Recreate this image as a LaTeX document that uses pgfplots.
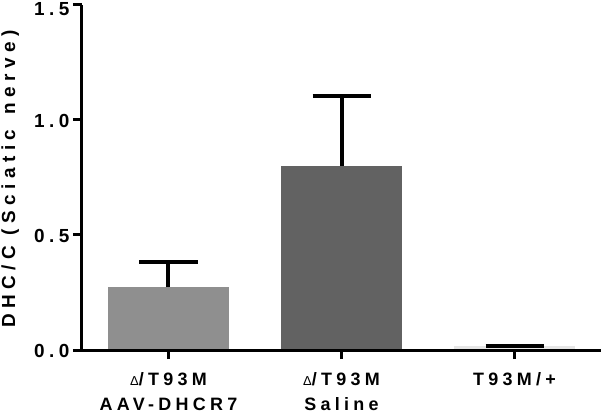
\documentclass[border=0pt]{standalone}
\usepackage{fontspec}
\setmainfont{Liberation Sans}
\newfontfamily\ylabfont[LetterSpace=29]{Liberation Sans}
\newfontfamily\ytickfont[LetterSpace=24]{Liberation Sans}
\newfontfamily\xfont[LetterSpace=24]{Liberation Sans}
\usepackage{pgfplots}
\pgfplotsset{compat=1.18}
\definecolor{barA}{HTML}{8F8F8F}
\definecolor{barB}{HTML}{626262}
\definecolor{barC}{HTML}{E6E6E6}
\newcommand{\dlt}{{\mdseries\fontsize{13}{13}\selectfont Δ}}
\begin{document}
\begin{tikzpicture}
\begin{axis}[
  scale only axis,
  width=519bp, height=345bp,
  xmin=-0.5, xmax=2.5,
  ymin=0, ymax=1.5,
  axis x line*=bottom,
  axis y line*=left,
  axis line style={line width=3bp, black},
  axis on top=true,
  tick align=outside,
  major tick length=9bp,
  tick style={line width=3bp, black},
  ytick={0,0.5,1,1.5},
  yticklabels={0.0,0.5,1.0,\raisebox{-3bp}[\height][\depth]{1.5}},
  yticklabel style={font={\ytickfont\bfseries\fontsize{19}{22}\selectfont}, yshift=-1bp},
  xtick={0,1,2},
  xticklabels={{\dlt/T93M\\AAV-DHCR7},{\dlt/T93M\\Saline},{T93M/+}},
  xticklabel style={font={\xfont\bfseries\fontsize{18}{25}\selectfont}, align=center, anchor=north, yshift=-10bp},
  ylabel={DHC/C (Sciatic\hspace{0.25em} nerve)},
  ylabel style={font={\ylabfont\bfseries\fontsize{19}{22}\selectfont}, at={(axis description cs:-0.1385,0.496)}, anchor=center},
  ybar, bar width=121bp, bar shift=0pt,
  error bars/y dir=plus,
  error bars/y explicit,
  error bars/error bar style={line width=4bp, black},
  error bars/error mark options={rotate=90, mark size=29bp, line width=4bp, black},
  /pgf/number format/assume math mode=true,
]
\addplot[fill=barA, draw=none] coordinates {(0,0.272) +- (0,0.111)};
\addplot[fill=barB, draw=none] coordinates {(1,0.801) +- (0,0.303)};
\addplot[fill=barC, draw=none] coordinates {(2,0.018) +- (0,0.001)};
\end{axis}
\pgfresetboundingbox
\path[use as bounding box] (-82bp,-67bp) rectangle (519bp,350bp);
\end{tikzpicture}
\end{document}
